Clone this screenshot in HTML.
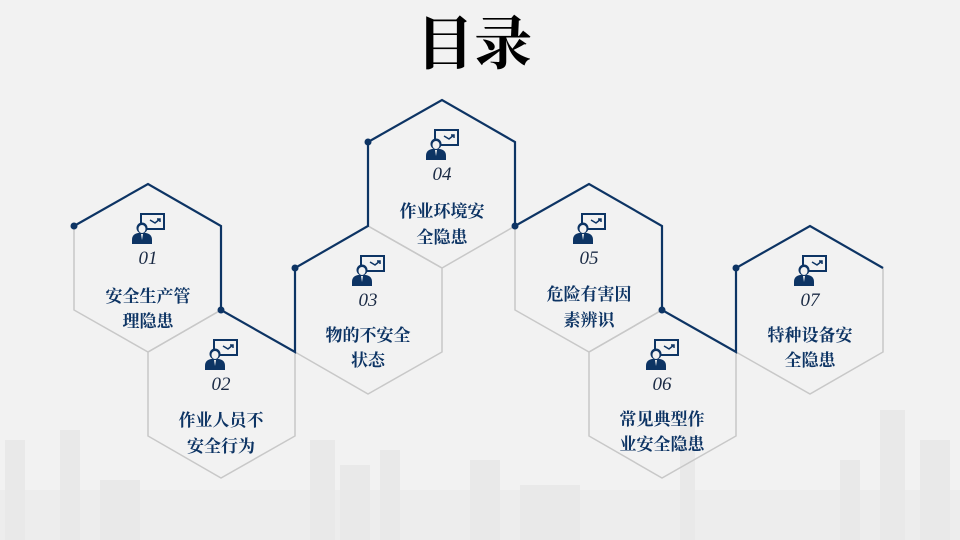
<!DOCTYPE html>
<html><head><meta charset="utf-8"><style>
html,body{margin:0;padding:0;background:#f2f2f2;}
svg{display:block;}
.t{font-family:"Liberation Serif","Noto Serif CJK SC",serif;font-weight:bold;font-size:17px;fill:#0d3464;text-anchor:middle;}
.n{font-family:"Liberation Serif",serif;font-style:italic;font-size:19px;fill:#1a2a44;text-anchor:middle;}
</style></head><body>
<svg width="960" height="540" viewBox="0 0 960 540" xmlns="http://www.w3.org/2000/svg">
<defs>
<g id="ic">
<rect x="-7" y="-16" width="23" height="15" fill="none" stroke="#0d3464" stroke-width="2"/>
<path d="M2,-10 l5,3 l5,-4 m-3,0 h3 v3" fill="none" stroke="#0d3464" stroke-width="1.5"/>
<circle cx="-6" cy="-2" r="5.5" fill="#0d3464"/>
<ellipse cx="-6" cy="-1" rx="3.5" ry="4" fill="#f2f2f2"/>
<path d="M-16,14 v-4 q0,-6 6,-7 h8 q6,1 6,7 v4z" fill="#0d3464"/>
<path d="M-7,4 h2 l-1,6z" fill="#f2f2f2"/>
</g>
</defs>
<g fill="#e9e9e9">
<rect x="0" y="490" width="960" height="50" fill="#ededed"/>
<rect x="5" y="440" width="20" height="100"/><rect x="60" y="430" width="20" height="110"/><rect x="100" y="480" width="40" height="60"/>
<rect x="310" y="440" width="25" height="100"/><rect x="340" y="465" width="30" height="75"/><rect x="380" y="450" width="20" height="90"/>
<rect x="470" y="460" width="30" height="80"/><rect x="520" y="485" width="60" height="55"/><rect x="680" y="420" width="15" height="120"/>
<rect x="880" y="410" width="25" height="130"/><rect x="920" y="440" width="30" height="100"/><rect x="840" y="460" width="20" height="80"/>
</g>
<text x="474" y="64" font-family="'Liberation Serif','Noto Serif CJK SC',serif" font-weight="bold" font-size="58" text-anchor="middle" fill="#000">目录</text>
<g fill="none" stroke="#c8c8c8" stroke-width="1.5">
<polygon points="148,184 221,226 221,310 148,352 74,310 74,226"/>
<polygon points="221,310 295,352 295,436 221,478 148,436 148,352"/>
<polygon points="368,226 442,268 442,352 368,394 295,352 295,268"/>
<polygon points="442,100 515,142 515,226 442,268 368,226 368,142"/>
<polygon points="589,184 662,226 662,310 589,352 515,310 515,226"/>
<polygon points="662,310 736,352 736,436 662,478 589,436 589,352"/>
<polygon points="810,226 883,268 883,352 810,394 736,352 736,268"/>
</g>
<polyline fill="none" stroke="#0d3464" stroke-width="2.2" points="74,226 148,184 221,226 221,310 295,352 295,268 368,226 368,142 442,100 515,142 515,226 589,184 662,226 662,310 736,352 736,268 810,226 883,268"/>
<g fill="#0d3464">
<circle cx="74" cy="226" r="3.5"/><circle cx="221" cy="310" r="3.5"/><circle cx="295" cy="268" r="3.5"/><circle cx="368" cy="142" r="3.5"/><circle cx="515" cy="226" r="3.5"/><circle cx="662" cy="310" r="3.5"/><circle cx="736" cy="268" r="3.5"/>
</g>
<use href="#ic" x="148" y="230"/><text class="n" x="148" y="264">01</text><text class="t" x="148" y="302">安全生产管</text><text class="t" x="148" y="327">理隐患</text>
<use href="#ic" x="221" y="356"/><text class="n" x="221" y="390">02</text><text class="t" x="221" y="426">作业人员不</text><text class="t" x="221" y="452">安全行为</text>
<use href="#ic" x="368" y="272"/><text class="n" x="368" y="306">03</text><text class="t" x="368" y="341">物的不安全</text><text class="t" x="368" y="366">状态</text>
<use href="#ic" x="442" y="146"/><text class="n" x="442" y="180">04</text><text class="t" x="442" y="217">作业环境安</text><text class="t" x="442" y="243">全隐患</text>
<use href="#ic" x="589" y="230"/><text class="n" x="589" y="264">05</text><text class="t" x="589" y="300">危险有害因</text><text class="t" x="589" y="326">素辨识</text>
<use href="#ic" x="662" y="356"/><text class="n" x="662" y="390">06</text><text class="t" x="662" y="425">常见典型作</text><text class="t" x="662" y="450">业安全隐患</text>
<use href="#ic" x="810" y="272"/><text class="n" x="810" y="306">07</text><text class="t" x="810" y="341">特种设备安</text><text class="t" x="810" y="366">全隐患</text>
</svg>
</body></html>
